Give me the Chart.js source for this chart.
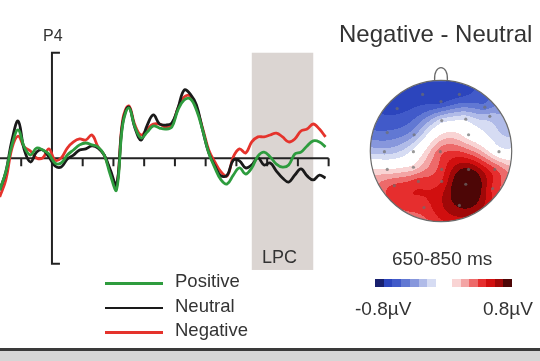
<!DOCTYPE html>
<html>
<head>
<meta charset="utf-8">
<script src="https://cdn.jsdelivr.net/npm/chart.js"></script>
<style>
  body { margin: 0; background: #fff; }
  #wrap { position: relative; width: 540px; height: 361px; overflow: hidden; font-family: "Liberation Sans", Arial, sans-serif; color: #333; }
  #wrap canvas { position: absolute; }
  .txt { position: absolute; line-height: 1; white-space: nowrap; }
</style>
</head>
<body>
<div id="wrap">
  <canvas id="erp" width="340" height="290" style="left:0;top:0"></canvas>
  <canvas id="topo" width="180" height="180" style="left:351px;top:61px"></canvas>
  <div class="txt" style="left:43px;top:28px;font-size:16px">P4</div>
  <div class="txt" style="left:262px;top:248px;font-size:18px">LPC</div>
  <div class="txt" style="left:339px;top:22px;font-size:24px">Negative - Neutral</div>
  <div class="txt" style="left:392px;top:249px;font-size:19px">650-850 ms</div>
  <div id="barNeg" style="position:absolute;left:375px;top:279px;width:61px;height:8px"></div>
  <div id="barPos" style="position:absolute;left:452px;top:279px;width:60px;height:8px"></div>
  <div class="txt" style="left:355px;top:299px;font-size:19px">-0.8µV</div>
  <div class="txt" style="right:7px;top:299px;font-size:19px">0.8µV</div>
  <div id="legend"></div>
  <div style="position:absolute;left:0;top:348px;width:540px;height:3px;background:#3a3a3a"></div>
  <div style="position:absolute;left:0;top:351px;width:540px;height:10px;background:#d6d6d6"></div>
</div>
<script>
// time axis (ms) and ERP amplitudes (µV) at P4
const times = [-170, -150, -130, -110, -90, -70, -50, -30, -10, 10, 30, 50, 70, 90, 110, 130, 150, 170, 190, 210,
  230, 250, 270, 290, 310, 330, 350, 370, 390, 410, 430, 450, 470, 490, 510, 530, 550, 570, 590, 610,
  630, 650, 670, 690, 710, 730, 750, 770, 790, 810, 830, 850, 870, 890];
const positive = [-1.51, -0.65, 0.63, 1.34, 0.53, 0.15, 0.48, 0.39, 0.20, -0.23, -0.23, 0.15, 0.39, 0.63, 0.72, 0.63, 0.53, 0.15, -0.80, -1.51,
  1.57, 2.38, 1.48, 0.96, 1.24, 1.53, 1.43, 1.38, 1.48, 2.29, 2.76, 2.81, 2.29, 1.34, 0.25, -0.46, -1.03, -1.22, -0.80, -0.46,
  -0.75, -0.46, 0.10, 0.29, 0.06, -0.28, -0.42, -0.32, 0.20, 0.29, 0.58, 0.82, 0.77, 0.53];
const neutral = [-1.51, -0.65, 0.86, 1.76, 0.39, -0.18, 0.29, 0.39, 0.06, -0.37, -0.42, -0.04, 0.15, 0.39, 0.44, 0.58, 0.48, 0.15, -0.56, -1.27,
  1.67, 2.43, 1.43, 0.86, 1.57, 2.05, 1.62, 1.57, 1.67, 2.38, 3.23, 3.04, 2.52, 1.34, 0.25, -0.37, -0.84, -0.80, -0.09, -0.13,
  -0.46, -0.32, 0.01, -0.32, -0.23, -0.61, -0.94, -1.13, -0.80, -0.51, -0.84, -1.03, -0.80, -0.94];
const negative = [-1.84, -1.03, 0.48, 1.05, 0.53, 0.34, 0.01, 0.01, 0.44, -0.09, 0.01, 0.48, 0.77, 0.91, 0.86, 1.10, 0.53, 0.15, -0.65, -1.37,
  1.81, 2.48, 1.57, 1.10, 1.38, 1.62, 1.62, 1.48, 1.57, 2.38, 2.90, 2.95, 2.38, 1.43, 0.39, -0.18, -0.65, -0.84, 0.06, 0.44,
  0.25, 0.77, 1.01, 1.01, 1.10, 1.19, 1.01, 0.77, 0.91, 1.29, 1.38, 1.62, 1.38, 1.01];
const seriesNames = ["Positive", "Neutral", "Negative"];
const seriesColors = ["#2e9c3e", "#1a1a1a", "#e5332c"];
const timeTicks = [-100, 100, 200, 300, 400, 500, 600, 700, 800, 900];
const lpcWindow = [650, 850];

// topographic map (Negative - Neutral, 650-850 ms): electrode positions and difference (µV)
const elecX = [-0.26, 0.26, 0.0, -0.62, 0.62, -0.76, -0.38, 0.01, 0.35, 0.69, -0.80, -0.39, -0.01, 0.39, 0.82,
  -0.76, -0.39, 0.01, 0.39, 0.76, -0.66, -0.32, 0.01, 0.35, 0.73, -0.24, 0.26];
const elecY = [0.80, 0.80, 0.70, 0.60, 0.62, 0.26, 0.23, 0.43, 0.45, 0.49, -0.01, -0.01, -0.01, 0.23, -0.01,
  -0.26, -0.23, -0.26, -0.26, -0.26, -0.49, -0.43, -0.43, -0.47, -0.53, -0.80, -0.77];
const elecVal = [-0.65, -0.63, -0.63, -0.62, -0.45, -0.48, -0.32, -0.15, -0.12, -0.25, -0.25, -0.06, 0.36, 0.03, -0.03,
  0.1, 0.14, 0.45, 0.72, 0.42, 0.42, 0.45, 0.5, 0.9, 0.48, 0.45, 0.72];
// colours read at the scalp edge (no electrode dot drawn there)
const rimX = [0.0, -0.9, 0.9, -0.95, 0.95, -0.55, 0.0, 0.6];
const rimY = [0.97, 0.38, 0.38, -0.3, -0.3, -0.8, -0.97, -0.78];
const rimVal = [-0.6, -0.55, -0.25, 0.15, 0.3, 0.42, 0.5, 0.6];
const negColors = ["#ffffff", "#d6dcf3", "#b0bbe8", "#8797dc", "#6178d3", "#415ac9", "#2c45bd", "#18206e"];
const posColors = ["#ffffff", "#f9d4d4", "#f3a5a5", "#ed6a6a", "#e62e2e", "#d10f0f", "#a00808", "#4d0606"];

const mapX = elecX.concat(rimX), mapY = elecY.concat(rimY), mapVal = elecVal.concat(rimVal);

function bandColor(v) {
  const b = Math.min(7, Math.floor(Math.abs(v) / 0.1));
  return v < 0 ? negColors[b] : posColors[b];
}

function hexRgb(h) {
  return [parseInt(h.slice(1, 3), 16), parseInt(h.slice(3, 5), 16), parseInt(h.slice(5, 7), 16)];
}

// biharmonic spline (like griddata v4) through the values
function green(d2) {
  if (d2 < 1e-12) return 0;
  return d2 * (0.5 * Math.log(d2) - 1);
}

function solveWeights() {
  const n = mapX.length;
  const A = [];
  for (let i = 0; i < n; i++) {
    const row = [];
    for (let j = 0; j < n; j++) {
      row.push(green((mapX[i] - mapX[j]) ** 2 + (mapY[i] - mapY[j]) ** 2));
    }
    row.push(mapVal[i]);
    A.push(row);
  }
  for (let c = 0; c < n; c++) {
    let p = c;
    for (let r = c + 1; r < n; r++) if (Math.abs(A[r][c]) > Math.abs(A[p][c])) p = r;
    [A[c], A[p]] = [A[p], A[c]];
    for (let r = 0; r < n; r++) {
      if (r === c) continue;
      const f = A[r][c] / A[c][c];
      for (let k = c; k <= n; k++) A[r][k] -= f * A[c][k];
    }
  }
  return A.map((row, i) => row[n] / row[i]);
}
const weights = solveWeights();

function fieldAt(px, py) {
  let s = 0;
  for (let i = 0; i < mapX.length; i++) {
    s += weights[i] * green((px - mapX[i]) ** 2 + (py - mapY[i]) ** 2);
  }
  return s;
}

const erpFrame = {
  id: "erpFrame",
  beforeDatasetsDraw(chart) {
    const { ctx, scales: { x, y } } = chart;
    ctx.save();
    const x0 = x.getPixelForValue(lpcWindow[0]);
    const x1 = x.getPixelForValue(lpcWindow[1]);
    const yt = y.getPixelForValue(5);
    ctx.fillStyle = "#dbd5d2";
    ctx.fillRect(x0, yt, x1 - x0, y.getPixelForValue(-5.3) - yt);

    ctx.strokeStyle = "#222";
    ctx.lineWidth = 2;
    const y0 = y.getPixelForValue(0);
    ctx.beginPath();
    ctx.moveTo(0, y0);
    ctx.lineTo(x.getPixelForValue(900), y0);
    timeTicks.forEach((t) => {
      const px = x.getPixelForValue(t);
      ctx.moveTo(px, y0);
      ctx.lineTo(px, y0 + 8);
    });
    ctx.stroke();

    const xa = x.getPixelForValue(0);
    const yb = y.getPixelForValue(-5);
    ctx.beginPath();
    ctx.moveTo(xa + 8, yt);
    ctx.lineTo(xa, yt);
    ctx.lineTo(xa, yb);
    ctx.lineTo(xa + 8, yb);
    ctx.stroke();
    ctx.restore();
  }
};

new Chart(document.getElementById("erp").getContext("2d"), {
  type: "line",
  data: {
    datasets: [positive, neutral, negative].map((vals, i) => ({
      label: seriesNames[i],
      data: times.map((t, j) => ({ x: t, y: vals[j] })),
      borderColor: seriesColors[i],
      borderWidth: 2.8,
      pointRadius: 0,
      tension: 0.4,
      fill: false
    }))
  },
  options: {
    responsive: false,
    animation: false,
    devicePixelRatio: 1,
    layout: { padding: 0 },
    scales: {
      x: { type: "linear", min: -169, max: 937, display: false },
      y: { min: -6.25, max: 7.5, display: false }
    },
    plugins: { legend: { display: false }, tooltip: { enabled: false } }
  },
  plugins: [erpFrame]
});

const headMap = {
  id: "headMap",
  beforeDatasetsDraw(chart) {
    const { ctx, scales: { x, y } } = chart;
    const w = chart.width, h = chart.height;
    const off = document.createElement("canvas");
    off.width = w; off.height = h;
    const octx = off.getContext("2d");
    const img = octx.createImageData(w, h);
    for (let py = 0; py < h; py++) {
      for (let px = 0; px < w; px++) {
        const dx = x.getValueForPixel(px + 0.5), dy = y.getValueForPixel(py + 0.5);
        if (dx * dx + dy * dy > 1.05) continue;
        const c = hexRgb(bandColor(fieldAt(dx, dy)));
        const k = (py * w + px) * 4;
        img.data[k] = c[0]; img.data[k + 1] = c[1]; img.data[k + 2] = c[2]; img.data[k + 3] = 255;
      }
    }
    octx.putImageData(img, 0, 0);
    const cx = x.getPixelForValue(0), cy = y.getPixelForValue(0);
    const r = x.getPixelForValue(1) - cx;
    ctx.save();
    ctx.beginPath();
    ctx.arc(cx, cy, r, 0, Math.PI * 2);
    ctx.clip();
    ctx.drawImage(off, 0, 0);
    ctx.restore();

    ctx.save();
    ctx.strokeStyle = "#6a6a6a";
    ctx.lineWidth = 1.2;
    ctx.beginPath();
    ctx.arc(cx, cy, r, 0, Math.PI * 2);
    ctx.stroke();
    ctx.beginPath();
    ctx.moveTo(x.getPixelForValue(-0.09), y.getPixelForValue(0.995));
    ctx.bezierCurveTo(x.getPixelForValue(-0.11), y.getPixelForValue(1.24),
      x.getPixelForValue(0.11), y.getPixelForValue(1.24),
      x.getPixelForValue(0.09), y.getPixelForValue(0.995));
    ctx.stroke();
    ctx.restore();
  }
};

new Chart(document.getElementById("topo").getContext("2d"), {
  type: "scatter",
  data: {
    datasets: [{
      data: elecX.map((ex, i) => ({ x: ex, y: elecY[i] })),
      backgroundColor: "rgba(110,110,110,0.7)",
      borderWidth: 0,
      pointRadius: 1.6
    }]
  },
  options: {
    responsive: false,
    animation: false,
    devicePixelRatio: 1,
    layout: { padding: 0 },
    scales: {
      x: { min: -1.216, max: 1.216, display: false },
      y: { min: -1.216, max: 1.216, display: false }
    },
    plugins: { legend: { display: false }, tooltip: { enabled: false } }
  },
  plugins: [headMap]
});

// colour bars
const stepGrad = (cols) => {
  const n = cols.length, stops = [];
  cols.forEach((c, i) => {
    stops.push(c + " " + (i * 100 / n).toFixed(1) + "%", c + " " + ((i + 1) * 100 / n).toFixed(1) + "%");
  });
  return "linear-gradient(to right," + stops.join(",") + ")";
};
document.getElementById("barNeg").style.background = stepGrad(negColors.slice(1).reverse());
document.getElementById("barPos").style.background = stepGrad(posColors.slice(1));

// legend
const legend = document.getElementById("legend");
const legendBase = [288, 312.5, 337];
seriesNames.forEach((name, i) => {
  const line = document.createElement("div");
  line.style.cssText = "position:absolute;left:105px;width:58px;height:2.5px;top:" + (legendBase[i] - 6) + "px;background:" + seriesColors[i];
  legend.appendChild(line);
  const t = document.createElement("div");
  t.className = "txt";
  t.style.cssText = "left:175px;font-size:18.5px;top:" + (legendBase[i] - 15.7) + "px";
  t.textContent = name;
  legend.appendChild(t);
});
</script>
</body>
</html>
